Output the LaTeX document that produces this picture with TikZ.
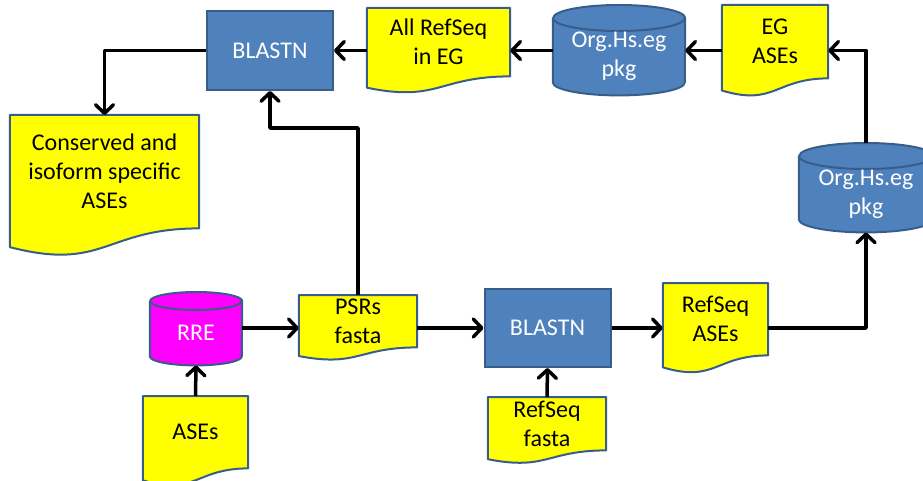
\documentclass[tikz,border=0pt]{standalone}
\usepackage{fontspec}
\setmainfont{Carlito}
\usepackage{tikz}
\usetikzlibrary{arrows.meta}
\usetikzlibrary{calc,backgrounds}
\definecolor{boxblue}{HTML}{4F81BD}
\definecolor{edgeblue}{HTML}{385D8A}
\definecolor{docyellow}{HTML}{FFFF00}
\definecolor{rremagenta}{HTML}{FF00FF}
\tikzset{
  every node/.style={font=\fontsize{24}{29}\selectfont},
  blastbox/.style={rectangle, draw=edgeblue, fill=boxblue, line width=2pt,
                   text=white, minimum width=126pt, minimum height=#1, inner sep=0pt},
  blastbox/.default=79pt,
  docbox/.style={rectangle, inner sep=0pt, align=center, anchor=north},
  cylbox/.style={rectangle, inner sep=0pt, align=center, anchor=north, text=white},
  docline/.style={draw=edgeblue, fill=docyellow, line width=2pt, line join=round},
  cylline/.style={draw=edgeblue, line width=2pt, line join=round},
  flow/.style={line width=3.5pt, line join=round,
               -{Straight Barb[length=8.5pt, width=18pt, round]}}}

\begin{document}
\begin{tikzpicture}[x=1pt, y=1pt]
  \useasboundingbox (0,0) rectangle (923,-481);
  % processing steps
  \node[blastbox] (blast1) at (270,-50.5) {BLASTN};
  \node[blastbox=78pt] (blast2) at (547.5,-328) {BLASTN};
  % documents (text area only, outline drawn on the background)
  \node[docbox, minimum width=189pt, minimum height=113pt] (cons) at (104.5,-115)
    {Conserved and\\isoform specific\\ASEs};
  \node[docbox, minimum width=143pt, minimum height=68pt] (allref) at (438.5,-8) {All RefSeq\\in EG};
  \node[docbox, minimum width=106pt, minimum height=73pt] (egases) at (775,-5) {EG\\ASEs};
  \node[docbox, minimum width=118pt, minimum height=52pt] (psrs) at (358,-295) {PSRs\\fasta};
  \node[docbox, minimum width=105pt, minimum height=72pt] (ases) at (195.5,-396) {ASEs};
  \node[docbox, minimum width=105pt, minimum height=72pt] (refases) at (715.5,-283) {RefSeq\\ASEs};
  \node[docbox, minimum width=118pt, minimum height=53pt] (reffasta) at (547,-397) {RefSeq\\fasta};
  % databases
  \node[cylbox, minimum width=132pt, minimum height=77pt] (org1) at (619,-18) {Org.Hs.eg\\pkg};
  \node[cylbox, minimum width=134pt, minimum height=76pt] (org2) at (866,-156) {Org.Hs.eg\\pkg};
  \node[cylbox, minimum width=92pt, minimum height=64pt] (rre) at (196,-301) {RRE};
  \begin{scope}[on background layer]
    \clip (0,0) rectangle (923,-481);
    \foreach \nm in {cons,allref,egases,psrs,ases,refases,reffasta}{
      \draw[docline] let \p1=(\nm.north), \p2=(\nm.south), \n1={\y1-\y2} in
        (\nm.north west) -- (\nm.north east) -- (\nm.south east)
        .. controls (\nm.south) and ($(\nm.south)+(0,-0.382*\n1)$)
        .. ($(\nm.south west)+(0,-0.165*\n1)$) -- cycle;}
    \foreach \nm/\col/\rx/\ry in {org1/boxblue/66/13, org2/boxblue/67/13, rre/rremagenta/46/9}{
      \filldraw[cylline, fill=\col] (\nm.north west) -- ($(\nm.south west)+(0,\ry)$)
        arc[start angle=180, end angle=360, x radius=\rx, y radius=\ry]
        -- (\nm.north east)
        arc[start angle=0, end angle=180, x radius=\rx, y radius=\ry] -- cycle;
      \draw[cylline] (\nm.north west)
        arc[start angle=180, end angle=360, x radius=\rx, y radius=\ry];}
  \end{scope}
  % connectors
  \coordinate (bend) at (358,-128);
  \draw[flow] (blast1.west) -| (cons.north);
  \draw[flow] (blast1.east -| allref.west) -- (blast1.east);
  \draw[flow] (blast1 -| org1.west) -- (blast1 -| allref.east);
  \draw[flow] (blast1 -| egases.west) -- (blast1 -| org1.east);
  \draw[flow] ([yshift=13pt]org2.north) |- (blast1 -| egases.east);
  \draw[flow] (psrs.north) -- (bend) -| (blast1.south);
  \draw[flow] (blast2 -| rre.east) -- (blast2 -| psrs.west);
  \draw[flow] (ases.north) -- (rre.south);
  \draw[flow] (blast2 -| psrs.east) -- (blast2.west);
  \draw[flow] (blast2.east) -- (blast2 -| refases.west);
  \draw[flow] (blast2 -| refases.east) -| (org2.south);
  \draw[flow] (reffasta.north) -- (blast2.south);
\end{tikzpicture}
\end{document}
